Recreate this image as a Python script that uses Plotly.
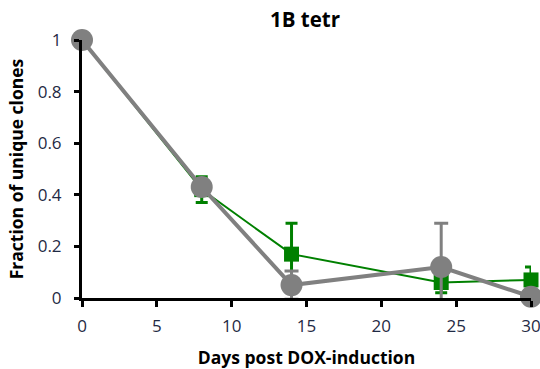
import plotly.graph_objects as go

days = [0, 8, 14, 24, 30]

green_y = [1.0, 0.42, 0.17, 0.06, 0.07]
green_err = [0.0, 0.05, 0.12, 0.04, 0.05]

grey_y = [1.0, 0.43, 0.05, 0.12, 0.005]
grey_err = [0.0, 0.0, 0.055, 0.17, 0.0]

x_ticks = [0, 5, 10, 15, 20, 25, 30]
y_ticks = [0, 0.2, 0.4, 0.6, 0.8, 1]
y_tick_text = ["0", "0.2", "0.4", "0.6", "0.8", "1"]

FONT = "Open Sans, Liberation Sans, sans-serif"

fig = go.Figure()

fig.add_trace(go.Scatter(
    x=days, y=green_y, mode="lines+markers",
    line=dict(color="#008000", width=2),
    marker=dict(symbol="square", size=15, color="#008000"),
    error_y=dict(type="data", array=green_err, color="#008000", thickness=3, width=6),
    cliponaxis=False, showlegend=False,
))

fig.add_trace(go.Scatter(
    x=days, y=grey_y, mode="lines+markers",
    line=dict(color="#808080", width=4),
    marker=dict(symbol="circle", size=22, color="#808080"),
    error_y=dict(type="data", array=grey_err, color="#808080", thickness=3, width=7),
    cliponaxis=False, showlegend=False,
))

tick_font = dict(family=FONT, size=17, color="#1f2a44")
title_font = dict(family=FONT, size=17.5, color="black")

fig.update_layout(
    width=540, height=369,
    margin=dict(l=82, r=9, t=40, b=71),
    paper_bgcolor="white", plot_bgcolor="white",
    title=dict(text="<b>1B tetr</b>", x=305 / 540, xanchor="center", y=1 - 20 / 369, yanchor="middle",
               font=dict(family=FONT, size=20.5, color="black")),
    xaxis=dict(
        range=[0, 30], tickvals=x_ticks, showgrid=False, zeroline=False,
        showline=True, linecolor="black", linewidth=3,
        ticks="outside", ticklen=6, tickwidth=3, tickcolor="black",
        tickfont=tick_font, ticklabelstandoff=5, ticklabeloverflow="allow",
        automargin=False,
        title=dict(text="<b>Days post DOX-induction</b>", standoff=16, font=title_font),
    ),
    yaxis=dict(
        range=[0, 1], tickvals=y_ticks, ticktext=y_tick_text, showgrid=False, zeroline=False,
        showline=True, linecolor="black", linewidth=3,
        ticks="outside", ticklen=5, tickwidth=3, tickcolor="black",
        tickfont=tick_font, ticklabelstandoff=9, ticklabeloverflow="allow",
        automargin=False,
        title=dict(text="<b>Fraction of unique clones</b>", standoff=10, font=title_font),
    ),
)

fig.write_html("out.html")
